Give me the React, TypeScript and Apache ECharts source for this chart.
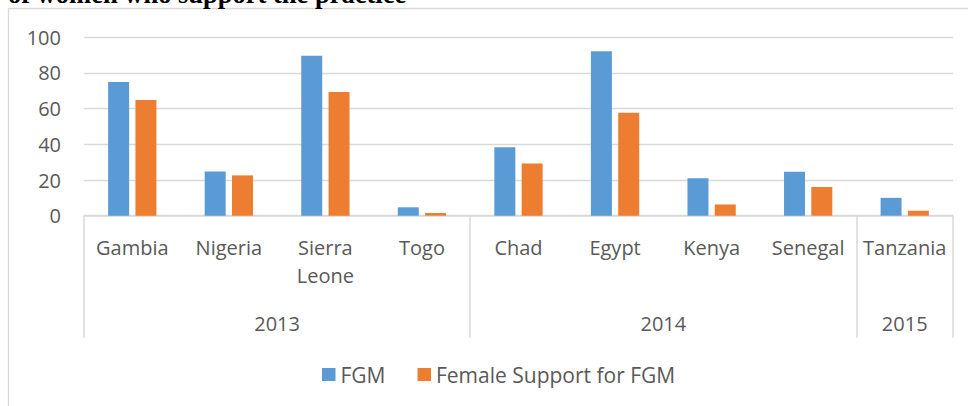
import React, { useEffect, useRef } from "react";
import * as echarts from "echarts";

const countries = ["Gambia", "Nigeria", "Sierra Leone", "Togo", "Chad", "Egypt", "Kenya", "Senegal", "Tanzania"];
const years = ["2013", "2014", "2015"];
const countriesPerYear = [4, 4, 1];
const fgm = [74.9, 24.8, 89.6, 4.7, 38.4, 92.2, 21, 24.7, 10];
const femaleSupport = [64.8, 22.6, 69.3, 1.5, 29.2, 57.7, 6.3, 16.1, 2.8];
const yTicks = [0, 20, 40, 60, 80, 100];
const titleLine = "of women who support the practice";

const FONT = "'Open Sans', 'Noto Sans', sans-serif";
const TEXT = "#595959";
const GRID = "#d9d9d9";

export default function App() {
  const ref = useRef<HTMLDivElement>(null);

  useEffect(() => {
    if (!ref.current) return;
    const chart = echarts.init(ref.current, undefined, { renderer: "svg" });

    // group boundaries (category index where each year group starts)
    const groupStarts: number[] = [];
    let acc = 0;
    countriesPerYear.forEach((n) => {
      groupStarts.push(acc);
      acc += n;
    });
    // year label slots on a half-category axis (0..2*N)
    const slots: string[] = new Array(countries.length * 2 + 1).fill("");
    years.forEach((y, i) => {
      slots[groupStarts[i] * 2 + countriesPerYear[i]] = y;
    });

    chart.setOption({
      animation: false,
      backgroundColor: "#ffffff",
      textStyle: { fontFamily: FONT },
      graphic: [
        {
          type: "rect",
          silent: true,
          shape: { x: 8.5, y: 8.5, width: 1200, height: 600 },
          style: { fill: "none", stroke: GRID, lineWidth: 1.3 },
        },
        {
          type: "text",
          silent: true,
          x: 8,
          y: -6,
          style: {
            text: titleLine,
            font: "bold 26.5px 'Liberation Serif', 'Times New Roman', serif",
            fill: "#000000",
            textAlign: "left",
            textVerticalAlign: "middle",
          },
        },
      ],
      grid: { left: 84, right: 15, top: 37.3, bottom: 190.3, containLabel: false },
      legend: {
        left: 322,
        top: 364,
        padding: 0,
        itemWidth: 13.5,
        itemHeight: 13,
        itemGap: 32,
        icon: "rect",
        textStyle: { fontFamily: FONT, fontSize: 21, color: TEXT, lineHeight: 20 },
        data: ["FGM", "Female Support for FGM"],
      },
      xAxis: [
        {
          type: "category",
          position: "bottom",
          data: countries,
          axisLine: { show: true, lineStyle: { color: GRID, width: 1.5 } },
          axisTick: {
            show: true,
            interval: (i: number) => groupStarts.includes(i),
            length: 122,
            lineStyle: { color: GRID, width: 1.5 },
          },
          axisLabel: {
            interval: 0,
            fontFamily: FONT,
            fontSize: 20,
            color: TEXT,
            lineHeight: 28,
            margin: 18,
            formatter: (v: string) => v.replace(" ", "\n"),
          },
        },
        {
          type: "category",
          position: "bottom",
          offset: 0,
          boundaryGap: false,
          data: slots,
          axisLine: { show: false },
          axisTick: { show: false },
          splitLine: { show: false },
          axisLabel: {
            interval: (i: number) => slots[i] !== "",
            fontFamily: FONT,
            fontSize: 20,
            color: TEXT,
            lineHeight: 28,
            margin: 94,
          },
        },
      ],
      yAxis: {
        type: "value",
        min: yTicks[0],
        max: yTicks[yTicks.length - 1],
        interval: yTicks[1] - yTicks[0],
        axisLine: { show: false },
        axisTick: { show: false },
        splitLine: { lineStyle: { color: GRID, width: 1.3 } },
        axisLabel: { fontFamily: FONT, fontSize: 20, color: TEXT, margin: 23 },
      },
      series: [
        {
          name: "FGM",
          type: "bar",
          xAxisIndex: 0,
          data: fgm,
          barWidth: 21,
          barGap: "30%",
          itemStyle: { color: "#5b9bd5" },
        },
        {
          name: "Female Support for FGM",
          type: "bar",
          xAxisIndex: 0,
          data: femaleSupport,
          barWidth: 21,
          barGap: "30%",
          itemStyle: { color: "#ed7d31" },
        },
      ],
    });

    return () => chart.dispose();
  }, []);

  return (
    <div
      ref={ref}
      style={{ position: "fixed", left: 0, top: 0, width: 968, height: 406, background: "#fff" }}
    />
  );
}
